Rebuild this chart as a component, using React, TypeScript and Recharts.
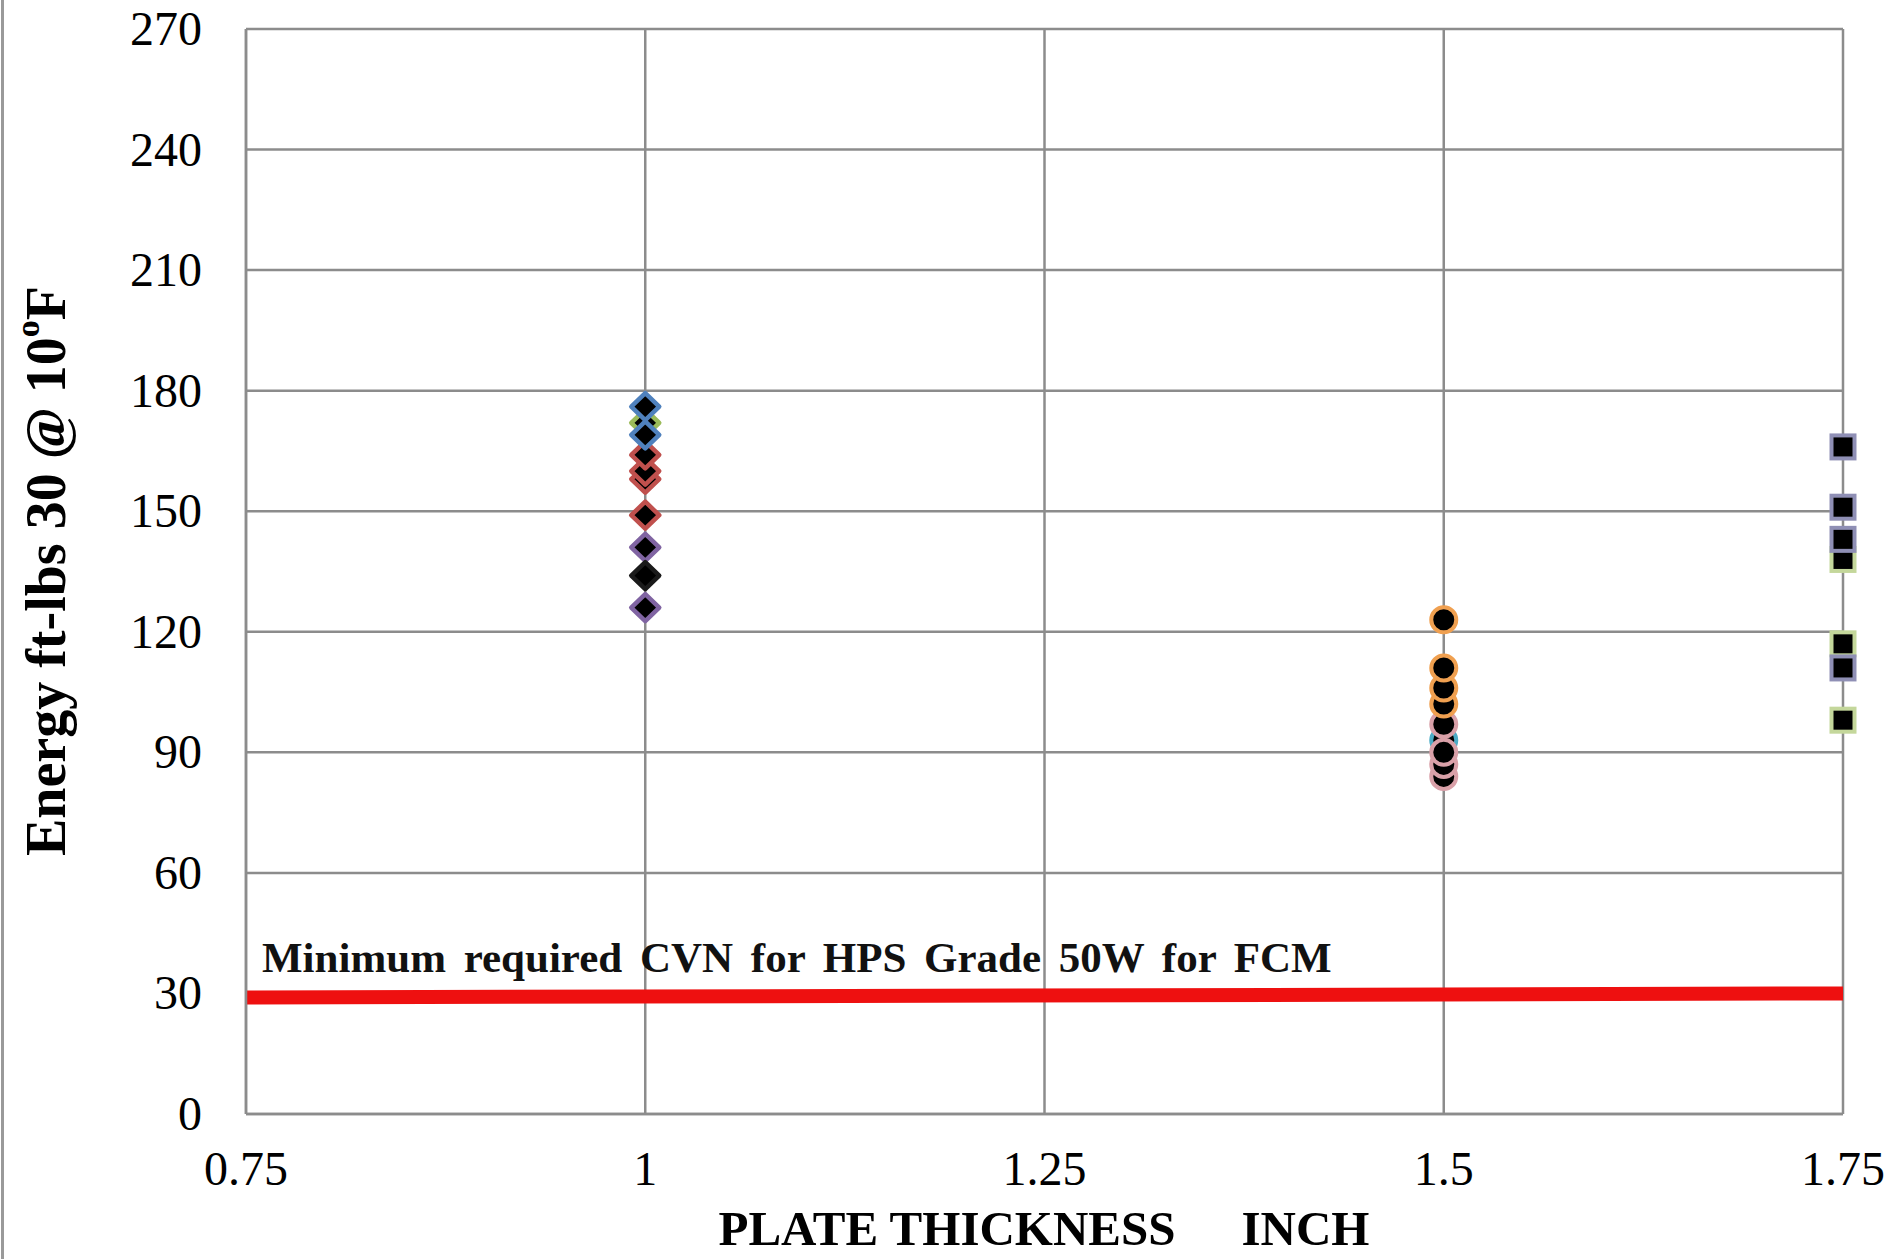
import React from "react";
import {
  ScatterChart,
  Scatter,
  XAxis,
  YAxis,
  CartesianGrid,
  ReferenceLine,
} from "recharts";

// ---- axis ticks ----
const X_TICKS = [0.75, 1, 1.25, 1.5, 1.75];
const Y_TICKS = [0, 30, 60, 90, 120, 150, 180, 210, 240, 270];

// ---- plate thickness groups ----
const DIAMOND_X = 1;
const CIRCLE_X = 1.5;
const SQUARE_X = 1.75;

// ---- CVN energies (ft-lbs) ----
const purpleDiamonds = [126, 141];
const blackDiamonds = [134];
const redDiamonds = [149, 158, 160, 164];
const greenDiamonds = [172];
const blueDiamonds = [169, 176];

const tealCircles = [93];
const pinkCircles = [84, 87, 90, 97];
const orangeCircles = [102, 106, 111, 123];

const greenSquares = [98, 117, 138];
const purpleSquares = [111, 143, 151, 166];

// ---- minimum required CVN line ----
const MIN_LINE_X = [0.75, 1.75];
const MIN_LINE_Y = [29, 30];

const FONT = "'Liberation Serif', 'Times New Roman', serif";
const GRID = "#8c8c8c";

const toPoints = (x: number, ys: number[]) => ys.map((y) => ({ x, y }));

const diamond = (color: string) => (props: any) => {
  const { cx, cy } = props;
  const w = 14;
  const h = 13.5;
  return (
    <polygon
      points={`${cx},${cy - h} ${cx + w},${cy} ${cx},${cy + h} ${cx - w},${cy}`}
      fill="#000"
      stroke={color}
      strokeWidth={4.5}
      strokeLinejoin="round"
    />
  );
};

const circle = (color: string) => (props: any) => {
  const { cx, cy } = props;
  return <circle cx={cx} cy={cy} r={12.5} fill="#000" stroke={color} strokeWidth={4} />;
};

const square = (color: string) => (props: any) => {
  const { cx, cy } = props;
  const s = 11.5;
  return (
    <rect x={cx - s} y={cy - s} width={2 * s} height={2 * s} fill="#000" stroke={color} strokeWidth={4} />
  );
};

const XTick = (props: any) => {
  const { x, y, payload } = props;
  return (
    <text x={x} y={y + 71} textAnchor="middle" fontFamily={FONT} fontSize={48} fill="#000">
      {String(payload.value)}
    </text>
  );
};

const YTick = (props: any) => {
  const { x, y, payload } = props;
  return (
    <text x={x - 44} y={y + 16} textAnchor="end" fontFamily={FONT} fontSize={48} fill="#000">
      {String(payload.value)}
    </text>
  );
};

const series = [
  { name: "d-purple", data: toPoints(DIAMOND_X, purpleDiamonds), shape: diamond("#8064A2") },
  { name: "d-black", data: toPoints(DIAMOND_X, blackDiamonds), shape: diamond("#1a1a1a") },
  { name: "d-red", data: toPoints(DIAMOND_X, redDiamonds), shape: diamond("#C0504D") },
  { name: "d-green", data: toPoints(DIAMOND_X, greenDiamonds), shape: diamond("#9BBB59") },
  { name: "d-blue", data: toPoints(DIAMOND_X, blueDiamonds), shape: diamond("#4F81BD") },
  { name: "c-teal", data: toPoints(CIRCLE_X, tealCircles), shape: circle("#4BACC6") },
  { name: "c-pink", data: toPoints(CIRCLE_X, pinkCircles), shape: circle("#D9A0A8") },
  { name: "c-orange", data: toPoints(CIRCLE_X, orangeCircles), shape: circle("#F0A050") },
  { name: "s-green", data: toPoints(SQUARE_X, greenSquares), shape: square("#C4D79B") },
  { name: "s-purple", data: toPoints(SQUARE_X, purpleSquares), shape: square("#8F8FB5") },
];

export default function App() {
  return (
    <div
      style={{
        position: "absolute",
        left: 0,
        top: 0,
        width: 1895,
        height: 1259,
        background: "#fff",
      }}
    >
      <div
        style={{
          position: "absolute",
          left: 1,
          top: 0,
          width: 3,
          height: 1259,
          background: "#9a9a9a",
        }}
      />
      <ScatterChart
        width={1895}
        height={1259}
        margin={{ top: 29, right: 52, bottom: 0, left: 0 }}
        style={{ position: "absolute", left: 0, top: 0 }}
      >
        <CartesianGrid stroke={GRID} strokeWidth={2.5} fill="#fff" />
        <XAxis
          type="number"
          dataKey="x"
          domain={[0.75, 1.75]}
          ticks={X_TICKS}
          height={145}
          tickSize={0}
          tickMargin={0}
          tickLine={false}
          axisLine={{ stroke: GRID, strokeWidth: 2.5 }}
          tick={<XTick />}
          interval={0}
        />
        <YAxis
          type="number"
          dataKey="y"
          domain={[0, 270]}
          ticks={Y_TICKS}
          width={246}
          tickSize={0}
          tickMargin={0}
          tickLine={false}
          axisLine={{ stroke: GRID, strokeWidth: 2.5 }}
          tick={<YTick />}
          interval={0}
        />
        <ReferenceLine
          segment={[
            { x: MIN_LINE_X[0], y: MIN_LINE_Y[0] },
            { x: MIN_LINE_X[1], y: MIN_LINE_Y[1] },
          ]}
          stroke="#EE1010"
          strokeWidth={14}
          ifOverflow="visible"
        />
        {series.map((s) => (
          <Scatter
            key={s.name}
            name={s.name}
            data={s.data}
            shape={s.shape}
            isAnimationActive={false}
          />
        ))}
        <text
          x={262}
          y={972}
          fontFamily={FONT}
          fontSize={43}
          fontWeight="bold"
          wordSpacing={7}
          fill="#111"
        >
          Minimum required CVN for HPS Grade 50W for FCM
        </text>
        <text
          x={1044}
          y={1245}
          textAnchor="middle"
          fontFamily={FONT}
          fontSize={49}
          fontWeight="bold"
          fill="#000"
        >
          <tspan>PLATE THICKNESS</tspan>
          <tspan dx={66}>INCH</tspan>
        </text>
        <text
          x={65}
          y={571}
          transform="rotate(-90 65 571)"
          textAnchor="middle"
          fontFamily={FONT}
          fontSize={56}
          fontWeight="bold"
          fill="#000"
        >
          <tspan>Energy ft-lbs 30 @ 10</tspan>
          <tspan fontSize={34} dy={-26}>o</tspan>
          <tspan dy={26}>F</tspan>
        </text>
      </ScatterChart>
    </div>
  );
}
